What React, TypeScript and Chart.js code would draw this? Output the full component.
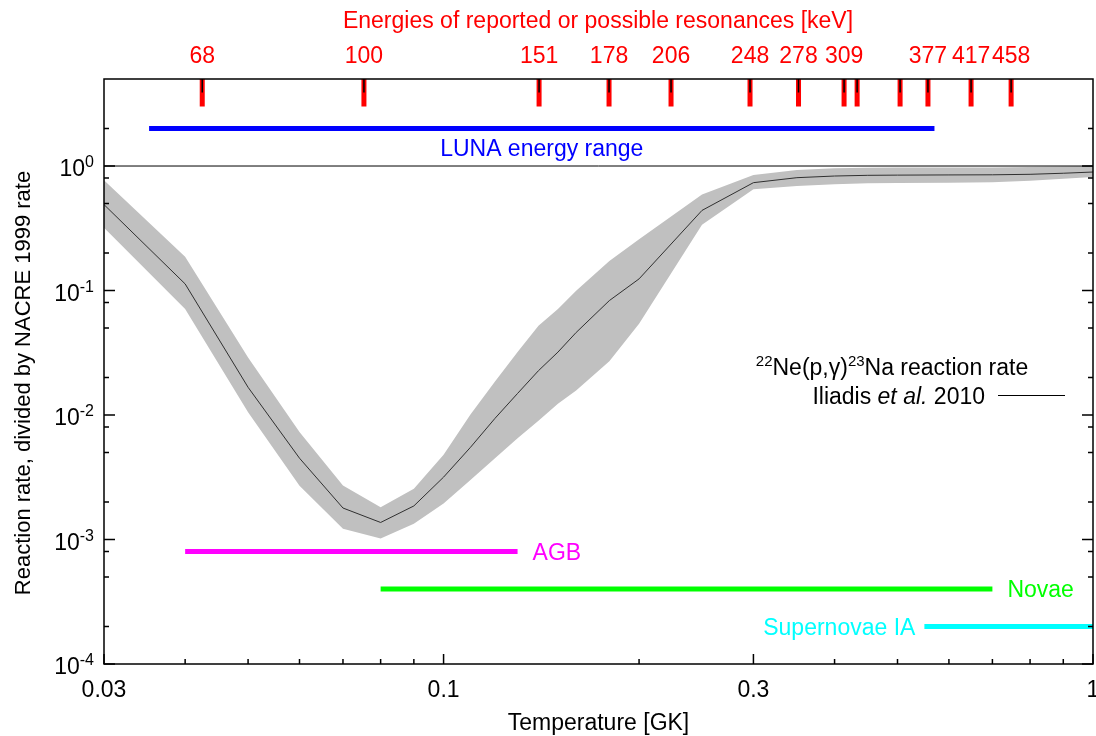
import React, { useEffect, useRef } from "react";
import { Chart, registerables } from "chart.js";

Chart.register(...registerables);

// ---------- data ----------
const temperature = [0.03, 0.04, 0.05, 0.06, 0.07, 0.08, 0.09, 0.1, 0.11, 0.12, 0.13, 0.14, 0.15, 0.16, 0.18, 0.2, 0.25, 0.3, 0.35, 0.4, 0.45, 0.5, 0.6, 0.7, 0.8, 0.9, 1.0];
const rateMedian = [0.49, 0.113, 0.0167, 0.0045, 0.00179, 0.00137, 0.00186, 0.00317, 0.0055, 0.0094, 0.0149, 0.0227, 0.032, 0.046, 0.083, 0.124, 0.44, 0.735, 0.806, 0.831, 0.842, 0.845, 0.848, 0.85, 0.858, 0.875, 0.895];
const rateHigh = [0.77, 0.187, 0.029, 0.0073, 0.00272, 0.00182, 0.00256, 0.0048, 0.0101, 0.0186, 0.032, 0.052, 0.071, 0.0995, 0.173, 0.258, 0.59, 0.847, 0.929, 0.959, 0.97, 0.972, 0.975, 0.975, 0.98, 0.99, 1.0];
const rateLow = [0.32, 0.071, 0.0105, 0.0027, 0.00122, 0.00102, 0.00134, 0.00195, 0.003, 0.0045, 0.0065, 0.009, 0.0123, 0.0157, 0.027, 0.054, 0.337, 0.651, 0.691, 0.713, 0.727, 0.73, 0.735, 0.74, 0.76, 0.79, 0.816];

const resonanceLabels = ["68", "100", "151", "178", "206", "248", "278", "309", "", "", "377", "417", "458"];
const resonanceTemperature = [0.0425, 0.0754, 0.1403, 0.1798, 0.224, 0.2964, 0.352, 0.4137, 0.4333, 0.5046, 0.557, 0.649, 0.748];
const resonanceSpan = [3, 5];
const resonanceTickSpan = [3.9, 5];

const lunaRange = [0.0352, 0.57];
const lunaLevel = 2;
const agbRange = [0.04, 0.13];
const agbLevel = 8e-4;
const novaeRange = [0.08, 0.7];
const novaeLevel = 4e-4;
const snRange = [0.55, 1.0];
const snLevel = 2e-4;
const unityRange = [0.03, 1.0];
const unityLevel = 1;

const xMajorTicks = [0.03, 0.1, 0.3, 1];
const xMajorLabels = ["0.03", "0.1", "0.3", "1"];
const xMinorTicks = [0.04, 0.05, 0.06, 0.07, 0.08, 0.09, 0.2, 0.4, 0.5, 0.6, 0.7, 0.8, 0.9];
const yMajorTicks = [1e-4, 1e-3, 1e-2, 1e-1, 1];
const yMajorExponents = ["-4", "-3", "-2", "-1", "0"];
const yMinorTicks = [2e-4, 5e-4, 8e-4, 2e-3, 5e-3, 8e-3, 2e-2, 5e-2, 8e-2, 0.2, 0.5, 0.8, 2];

const FONT = '"Liberation Sans", Arial, Helvetica, sans-serif';

const seg = (r: number[], level: number) => [{ x: r[0], y: level }, { x: r[1], y: level }];

const annotPlugin = {
  id: "annot",
  afterDraw(chart: any) {
    const ctx = chart.ctx as CanvasRenderingContext2D;
    const { left, right, top, bottom } = chart.chartArea;
    const xs = chart.scales.x;
    const ys = chart.scales.y;
    ctx.save();
    // frame
    ctx.strokeStyle = "#000";
    ctx.lineWidth = 1.5;
    ctx.strokeRect(left, top, right - left, bottom - top);
    ctx.beginPath();
    yMajorTicks.forEach((v) => {
      const y = ys.getPixelForValue(v);
      ctx.moveTo(left, y); ctx.lineTo(left + 11, y);
      ctx.moveTo(right, y); ctx.lineTo(right - 11, y);
    });
    yMinorTicks.forEach((v) => {
      const y = ys.getPixelForValue(v);
      ctx.moveTo(left, y); ctx.lineTo(left + 5, y);
      ctx.moveTo(right, y); ctx.lineTo(right - 5, y);
    });
    xMajorTicks.forEach((v) => {
      const x = xs.getPixelForValue(v);
      ctx.moveTo(x, bottom); ctx.lineTo(x, bottom - 10);
    });
    xMinorTicks.forEach((v) => {
      const x = xs.getPixelForValue(v);
      ctx.moveTo(x, bottom); ctx.lineTo(x, bottom - 5);
    });
    ctx.stroke();

    // y tick labels
    ctx.fillStyle = "#000";
    ctx.textBaseline = "alphabetic";
    yMajorTicks.forEach((v, i) => {
      const y = ys.getPixelForValue(v);
      ctx.font = `16px ${FONT}`;
      const ew = ctx.measureText(yMajorExponents[i]).width;
      ctx.font = `23px ${FONT}`;
      const bw = ctx.measureText("10").width;
      const xr = left - 10;
      ctx.textAlign = "left";
      ctx.fillText("10", xr - ew - bw, y + 10);
      ctx.font = `16px ${FONT}`;
      ctx.fillText(yMajorExponents[i], xr - ew, y + 1);
    });
    // x tick labels
    ctx.font = `23px ${FONT}`;
    ctx.textAlign = "center";
    xMajorTicks.forEach((v, i) => {
      ctx.fillText(xMajorLabels[i], xs.getPixelForValue(v), bottom + 33);
    });
    ctx.fillText("Temperature [GK]", (left + right) / 2, 730);

    // y title
    ctx.save();
    ctx.translate(30, 383);
    ctx.rotate(-Math.PI / 2);
    ctx.font = `22px ${FONT}`;
    ctx.textAlign = "center";
    ctx.fillText("Reaction rate, divided by NACRE 1999 rate", 0, 0);
    ctx.restore();

    // resonance title and labels
    ctx.fillStyle = "#ff0000";
    ctx.font = `23px ${FONT}`;
    ctx.textAlign = "center";
    ctx.fillText("Energies of reported or possible resonances [keV]", 598, 28);
    resonanceLabels.forEach((lab, i) => {
      if (!lab) return;
      ctx.fillText(lab, xs.getPixelForValue(resonanceTemperature[i]), 63);
    });

    // LUNA label
    ctx.fillStyle = "#0000ff";
    const lx = (xs.getPixelForValue(lunaRange[0]) + xs.getPixelForValue(lunaRange[1])) / 2;
    ctx.fillText("LUNA energy range", lx, ys.getPixelForValue(lunaLevel) + 27);

    // site labels
    ctx.textAlign = "left";
    ctx.fillStyle = "#ff00ff";
    ctx.fillText("AGB", xs.getPixelForValue(agbRange[1]) + 15, ys.getPixelForValue(agbLevel) + 8);
    ctx.fillStyle = "#00ff00";
    ctx.fillText("Novae", xs.getPixelForValue(novaeRange[1]) + 15, ys.getPixelForValue(novaeLevel) + 8);
    ctx.fillStyle = "#00ffff";
    ctx.textAlign = "right";
    ctx.fillText("Supernovae IA", xs.getPixelForValue(snRange[0]) - 9, ys.getPixelForValue(snLevel) + 8);

    // legend
    ctx.fillStyle = "#000";
    const parts: [string, boolean][] = [["22", true], ["Ne(p,\u03b3)", false], ["23", true], ["Na reaction rate", false]];
    let total = 0;
    parts.forEach(([t, sup]) => {
      ctx.font = sup ? `15px ${FONT}` : `23px ${FONT}`;
      total += ctx.measureText(t).width;
    });
    let cx = 892 - total / 2;
    ctx.textAlign = "left";
    parts.forEach(([t, sup]) => {
      ctx.font = sup ? `15px ${FONT}` : `23px ${FONT}`;
      ctx.fillText(t, cx, sup ? 366 : 375);
      cx += ctx.measureText(t).width;
    });
    const parts2: [string, string][] = [["Iliadis ", "normal"], ["et al.", "italic"], [" 2010", "normal"]];
    let t2 = 0;
    parts2.forEach(([t, st]) => {
      ctx.font = `${st} 23px ${FONT}`;
      t2 += ctx.measureText(t).width;
    });
    cx = 985 - t2;
    parts2.forEach(([t, st]) => {
      ctx.font = `${st} 23px ${FONT}`;
      ctx.fillText(t, cx, 404);
      cx += ctx.measureText(t).width;
    });
    ctx.strokeStyle = "#000";
    ctx.lineWidth = 1;
    ctx.beginPath();
    ctx.moveTo(998, 395.5);
    ctx.lineTo(1065, 395.5);
    ctx.stroke();
    ctx.restore();
  },
};

export default function App() {
  const ref = useRef<HTMLCanvasElement | null>(null);
  useEffect(() => {
    document.body.style.margin = "0";
    const canvas = ref.current!;
    const resRed: any[] = [];
    const resBlack: any[] = [];
    resonanceTemperature.forEach((t) => {
      resRed.push({ x: t, y: resonanceSpan[1] }, { x: t, y: resonanceSpan[0] }, { x: t, y: null });
      resBlack.push({ x: t, y: resonanceTickSpan[1] }, { x: t, y: resonanceTickSpan[0] }, { x: t, y: null });
    });
    const chart = new Chart(canvas, {
      type: "line",
      data: {
        datasets: [
          {
            data: temperature.map((t, i) => ({ x: t, y: rateHigh[i] })),
            borderWidth: 0, borderColor: "rgba(0,0,0,0)", backgroundColor: "#c0c0c0",
            fill: "+1", pointRadius: 0, order: 10,
          },
          {
            data: temperature.map((t, i) => ({ x: t, y: rateLow[i] })),
            borderWidth: 0, borderColor: "rgba(0,0,0,0)", fill: false, pointRadius: 0, order: 10,
          },
          {
            data: temperature.map((t, i) => ({ x: t, y: rateMedian[i] })),
            borderWidth: 1, borderColor: "#303030", fill: false, pointRadius: 0, order: 6,
          },
          { data: seg(unityRange, unityLevel), borderWidth: 1, borderColor: "#000", pointRadius: 0, order: 5 },
          { data: seg(lunaRange, lunaLevel), borderWidth: 5, borderColor: "#0000ff", pointRadius: 0, order: 4 },
          { data: seg(agbRange, agbLevel), borderWidth: 5, borderColor: "#ff00ff", pointRadius: 0, order: 4 },
          { data: seg(novaeRange, novaeLevel), borderWidth: 5, borderColor: "#00ff00", pointRadius: 0, order: 4 },
          { data: seg(snRange, snLevel), borderWidth: 5, borderColor: "#00ffff", pointRadius: 0, order: 4 },
          { data: resRed, borderWidth: 5, borderColor: "#ff0000", pointRadius: 0, spanGaps: false, order: 2 },
          { data: resBlack, borderWidth: 1.5, borderColor: "#000", pointRadius: 0, spanGaps: false, order: 1 },
        ] as any,
      },
      options: {
        responsive: false,
        animation: false,
        parsing: true,
        layout: { padding: { left: 104, top: 79, right: 3, bottom: 72 } },
        plugins: { legend: { display: false }, tooltip: { enabled: false } },
        elements: { line: { tension: 0 } },
        scales: {
          x: { type: "logarithmic", min: 0.03, max: 1, display: false },
          y: { type: "logarithmic", min: 1e-4, max: 5, display: false },
        },
      } as any,
      plugins: [annotPlugin],
    });
    return () => chart.destroy();
  }, []);
  return (
    <div style={{ width: 1096, height: 736, background: "#fff" }}>
      <canvas ref={ref} width={1096} height={736} style={{ display: "block" }} />
    </div>
  );
}
